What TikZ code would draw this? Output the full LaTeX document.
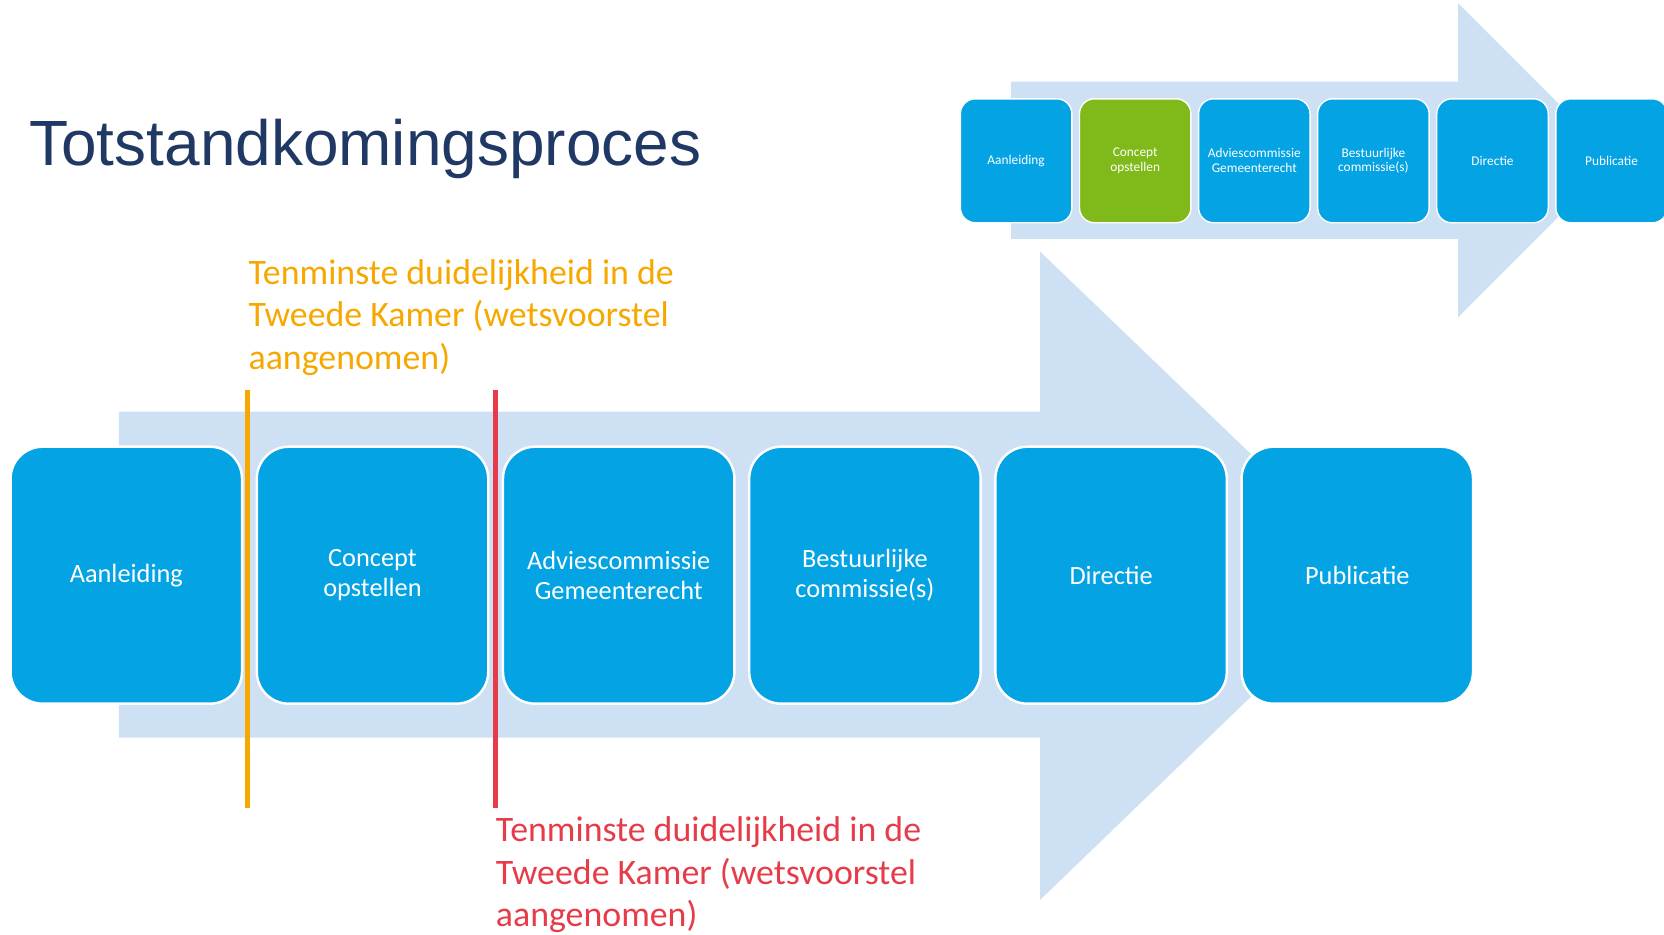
\documentclass[tikz,border=0pt]{standalone}
\usepackage{fontspec}
\setmainfont{Carlito}
\newfontfamily\titlefont{Liberation Sans}

\definecolor{stepblue}{HTML}{04A3E4}
\definecolor{stepgreen}{HTML}{7FBA1A}
\definecolor{arrowblue}{HTML}{CDE0F4}
\definecolor{titlenavy}{HTML}{1F3864}
\definecolor{noteorange}{HTML}{F7A800}
\definecolor{notered}{HTML}{E63C4A}

\begin{document}
\begin{tikzpicture}[x=0.02cm, y=-0.02cm,
  bigbox/.style={fill=stepblue, draw=white, line width=1.4pt, rounded corners=0.64cm,
    minimum width=4.63cm, minimum height=5.14cm, inner sep=0, align=center, text=white,
    font=\fontsize{15}{16.8}\selectfont},
  smallbox/.style={fill=stepblue, draw=white, line width=0.8pt, rounded corners=0.3cm,
    minimum width=2.23cm, minimum height=2.48cm, inner sep=0, align=center, text=white,
    font=\fontsize{7.6}{8.5}\selectfont},
  note/.style={anchor=base west, inner sep=0, align=left,
    font=\fontsize{20.4}{24.1}\selectfont},
  marker/.style={line width=2.8pt}]
\useasboundingbox (0,0) rectangle (1664,935);
\clip (0,0) rectangle (1664,935);

% arrows behind the steps
\fill[arrowblue] (1011,81.7) -- (1458,81.7) -- (1458,3.2) -- (1615,160.2)
  -- (1458,317.3) -- (1458,238.8) -- (1011,238.8) -- cycle;
\fill[arrowblue] (118.9,411.7) -- (1040,411.7) -- (1040,251.5) -- (1377,575.2)
  -- (1040,900) -- (1040,737.5) -- (118.9,737.5) -- cycle;

\node[anchor=base west, inner sep=0, text=titlenavy,
  font=\titlefont\fontsize{36.4}{40}\selectfont] (title) at (29,165.5) {Totstandkomingsproces};

% small row
\node[smallbox] (Aan2) at (1016.1,160.8) {Aanleiding};
\node[smallbox, fill=stepgreen] (Con2) at (1135.2,160.8) {Concept\\opstellen};
\node[smallbox] (Adv2) at (1254.3,160.8) {Adviescommissie\\Gemeenterecht};
\node[smallbox] (Bes2) at (1373.4,160.8) {Bestuurlijke\\commissie(s)};
\node[smallbox] (Dir2) at (1492.5,160.8) {Directie};
\node[smallbox] (Pub2) at (1611.6,160.8) {Publicatie};

% big row
\node[bigbox] (Aan1) at (126.3,575.2) {Aanleiding};
\node[bigbox] (Con1) at (372.5,575.2) {Concept\\opstellen};
\node[bigbox] (Adv1) at (618.7,575.2) {Adviescommissie\\Gemeenterecht};
\node[bigbox] (Bes1) at (864.9,575.2) {Bestuurlijke\\commissie(s)};
\node[bigbox] (Dir1) at (1111.1,575.2) {Directie};
\node[bigbox] (Pub1) at (1357.3,575.2) {Publicatie};

\coordinate (otop) at (247.6,390.5);
\coordinate (obot) at (247.6,807.6);
\coordinate (rtop) at (495.6,390.5);
\coordinate (rbot) at (495.6,807.6);
\draw[marker, noteorange] (otop) -- (obot);
\draw[marker, notered] (rtop) -- (rbot);

\node[note, text=noteorange] (onote) at (248.3,369.3)
  {Tenminste duidelijkheid in de\\Tweede Kamer (wetsvoorstel\\aangenomen)};
\node[note, text=notered] (rnote) at (495.6,926.4)
  {Tenminste duidelijkheid in de\\Tweede Kamer (wetsvoorstel\\aangenomen)};
\end{tikzpicture}
\end{document}
